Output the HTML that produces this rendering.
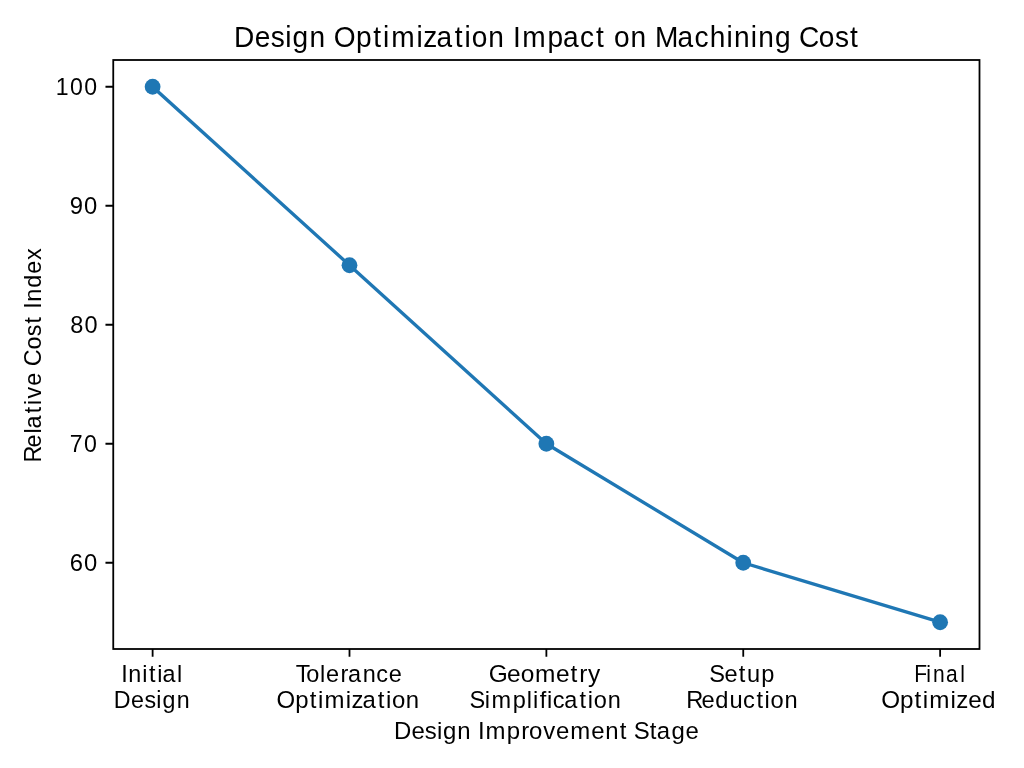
<!DOCTYPE html>
<html><head><meta charset="utf-8"><title>Design Optimization Impact on Machining Cost</title>
<style>html,body{margin:0;padding:0;background:#fff;width:1024px;height:768px;overflow:hidden}svg{display:block;will-change:transform}text{font-family:"Liberation Sans",sans-serif;fill:#000}</style></head><body>
<svg width="1024" height="768" viewBox="0 0 1024 768">
<rect x="0" y="0" width="1024" height="768" fill="#fff"/>
<path d="M105.47 562.73H113.25M105.47 443.74H113.25M105.47 324.75H113.25M105.47 205.76H113.25M105.47 86.77H113.25M152.62 649.00V656.78M349.50 649.00V656.78M546.38 649.00V656.78M743.25 649.00V656.78M940.12 649.00V656.78" stroke="#000" stroke-width="1.8" fill="none"/>
<polyline points="152.62,86.77 349.50,265.26 546.38,443.74 743.25,562.73 940.12,622.23" fill="none" stroke="#1f77b4" stroke-width="3.33" stroke-linejoin="round" stroke-linecap="square"/>
<circle cx="152.62" cy="86.77" r="7.9" fill="#1f77b4"/>
<circle cx="349.50" cy="265.26" r="7.9" fill="#1f77b4"/>
<circle cx="546.38" cy="443.74" r="7.9" fill="#1f77b4"/>
<circle cx="743.25" cy="562.73" r="7.9" fill="#1f77b4"/>
<circle cx="940.12" cy="622.23" r="7.9" fill="#1f77b4"/>
<rect x="113.25" y="60.00" width="866.25" height="589.00" fill="none" stroke="#000" stroke-width="1.8"/>
<text x="237.99 259.12 275.44 290.05 297.45 314.85 331.31 339.48 362.06 379.70 389.64 397.93 423.54 430.55 443.99 462.52 472.46 479.72 496.65 513.11 521.75 531.08 556.91 572.62 589.85 606.03 615.38 624.34 641.26 657.72 666.13 689.02 706.26 721.83 738.94 746.55 763.61 771.22 788.18 804.88 812.48 832.75 849.08 864.35" y="47.10" font-size="28.60" transform="scale(0.9833 1)">Design Optimization Impact on Machining Cost</text>
<text x="56.79 71.31 85.71" y="95.27" font-size="23.50" transform="scale(0.9829 1)">100</text>
<text x="68.87 82.92" y="214.26" font-size="23.50" transform="scale(1.0129 1)">90</text>
<text x="70.20 84.32" y="333.25" font-size="23.50" transform="scale(1.0022 1)">80</text>
<text x="70.73 85.13" y="452.24" font-size="23.50" transform="scale(0.9862 1)">70</text>
<text x="68.79 82.75" y="571.23" font-size="23.50" transform="scale(1.0139 1)">60</text>
<text x="121.98 129.15 143.26 150.04 158.26 163.46 178.21" y="682.00" font-size="23.50" transform="scale(0.9936 1)">Initial</text>
<text x="114.84 132.38 145.93 158.03 164.22 178.67" y="708.00" font-size="23.50" transform="scale(0.9895 1)">Design</text>
<text x="295.70 306.20 320.01 326.07 340.49 348.01 362.77 376.29 388.91" y="682.00" font-size="23.50" transform="scale(0.9999 1)">Tolerance</text>
<text x="271.19 289.44 303.72 311.75 318.27 339.07 344.66 355.47 370.49 378.52 384.29 397.92" y="708.00" font-size="23.50" transform="scale(1.0199 1)">Optimization</text>
<text x="469.63 487.14 500.21 513.95 534.18 548.12 556.49 564.87" y="682.00" font-size="23.50" transform="scale(1.0409 1)">Geometry</text>
<text x="468.99 484.25 491.03 512.24 526.17 532.36 538.99 546.36 552.02 563.70 578.93 587.10 593.05 606.93" y="708.00" font-size="23.50" transform="scale(1.0012 1)">Simplification</text>
<text x="706.62 721.71 736.04 744.14 758.39" y="682.00" font-size="23.50" transform="scale(1.0038 1)">Setup</text>
<text x="681.12 696.24 709.87 723.96 737.48 750.70 758.82 764.71 778.50" y="708.00" font-size="23.50" transform="scale(1.0076 1)">Reduction</text>
<text x="1020.63 1033.99 1041.43 1055.98 1071.86" y="682.00" font-size="23.50" transform="scale(0.8958 1)">Final</text>
<text x="854.59 872.66 886.82 894.77 901.15 921.79 927.29 938.87 952.19" y="708.00" font-size="23.50" transform="scale(1.0312 1)">Optimized</text>
<text x="386.65 403.75 416.93 428.78 434.68 448.71 462.13 469.03 476.41 497.31 511.63 519.29 533.08 545.65 559.76 580.35 593.99 608.37 615.97 622.12 637.73 644.65 658.99 672.81" y="739.00" font-size="23.50" transform="scale(1.0189 1)">Design Improvement Stage</text>
<text x="-465.10 -449.82 -435.94 -430.75 -415.45 -407.23 -400.78 -387.89 -374.51 -368.21 -351.47 -337.99 -325.38 -317.67 -310.53 -303.37 -289.35 -275.19 -261.50" y="41.00" font-size="23.50" transform="rotate(-90) scale(0.9946 1)">Relative Cost Index</text>
</svg>
</body></html>
